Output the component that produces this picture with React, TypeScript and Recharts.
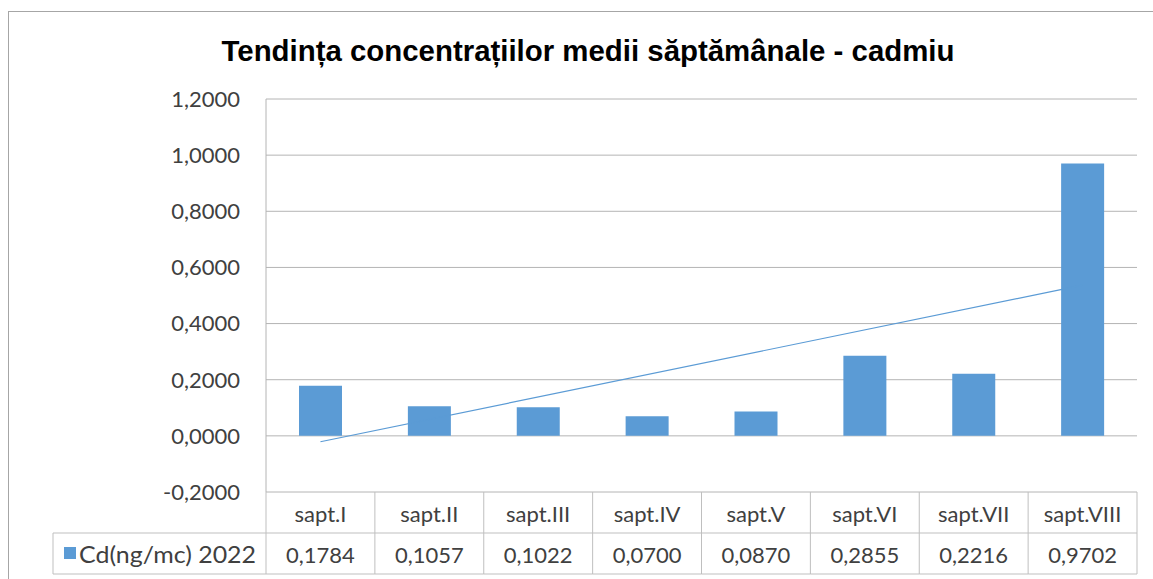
import React from "react";
import {
  ComposedChart,
  Bar,
  Line,
  XAxis,
  YAxis,
  CartesianGrid,
} from "recharts";

const CATEGORIES = [
  "sapt.I",
  "sapt.II",
  "sapt.III",
  "sapt.IV",
  "sapt.V",
  "sapt.VI",
  "sapt.VII",
  "sapt.VIII",
];
const CD_VALUES = [0.1784, 0.1057, 0.1022, 0.07, 0.087, 0.2855, 0.2216, 0.9702];
// linear trendline: only its two end points
const TREND = [-0.021, null, null, null, null, null, null, 0.537];
const Y_TICKS = [-0.2, 0, 0.2, 0.4, 0.6, 0.8, 1.0, 1.2];
const SERIES_NAME = "Cd(ng/mc) 2022";
const TITLE = "Tendința concentrațiilor medii săptămânale - cadmiu";

const data = CATEGORIES.map((cat, i) => ({
  cat,
  cd: CD_VALUES[i],
  trend: TREND[i],
}));

const W = 1153;
const H = 579;
const PLOT_LEFT = 266;
const PLOT_RIGHT = 1137;
const COL_W = (PLOT_RIGHT - PLOT_LEFT) / CATEGORIES.length;
const LEGEND_LEFT = 53;
const ROW_H = 41;
const GRID = "#b4b4b4";
const BORDER = "#bfbfbf";
const TEXT = "#404040";
const BLUE = "#5b9bd5";
const FONT = "Lato, Calibri, sans-serif";

const fmt = (v: number) => v.toFixed(4).replace(".", ",");

function TableTick(props: any) {
  const { x, y, payload, index } = props;
  const i = payload?.index ?? index;
  const left = x - COL_W / 2;
  const right = x + COL_W / 2;
  const mid = y + ROW_H;
  const bottom = y + ROW_H * 2;
  return (
    <g>
      <line x1={right} x2={right} y1={y} y2={bottom} stroke={BORDER} />
      <line x1={left} x2={right} y1={mid} y2={mid} stroke={BORDER} />
      <line x1={left} x2={right} y1={bottom} y2={bottom} stroke={BORDER} />
      {i === 0 && (
        <g>
          <line x1={left} x2={left} y1={y} y2={bottom} stroke={BORDER} />
          <line x1={LEGEND_LEFT} x2={left} y1={mid} y2={mid} stroke={BORDER} />
          <line x1={LEGEND_LEFT} x2={left} y1={bottom} y2={bottom} stroke={BORDER} />
          <line x1={LEGEND_LEFT} x2={LEGEND_LEFT} y1={mid} y2={bottom} stroke={BORDER} />
          <rect x={LEGEND_LEFT + 11} y={mid + 14} width={12} height={12} fill={BLUE} />
          <text
            x={LEGEND_LEFT + 26}
            y={mid + 30}
            fontFamily={FONT}
            fontSize={23}
            fill={TEXT}
            textLength={177}
            lengthAdjust="spacingAndGlyphs"
          >
            {SERIES_NAME}
          </text>
        </g>
      )}
      <text
        x={x}
        y={y + 30}
        textAnchor="middle"
        fontFamily={FONT}
        fontSize={22}
        fill={TEXT}
      >
        {payload.value}
      </text>
      <text
        x={x}
        y={mid + 30}
        textAnchor="middle"
        fontFamily={FONT}
        fontSize={22}
        fill={TEXT}
      >
        {fmt(CD_VALUES[i])}
      </text>
    </g>
  );
}

export default function App() {
  return (
    <div
      style={{
        position: "absolute",
        left: 0,
        top: 0,
        width: W,
        height: H,
        overflow: "hidden",
        background: "#fff",
      }}
    >
      <div
        style={{
          position: "absolute",
          left: 8,
          top: 11,
          width: 1200,
          height: 640,
          border: "1px solid #a6a6a6",
          boxSizing: "border-box",
        }}
      />
      <svg
        width={W}
        height={80}
        style={{ position: "absolute", left: 0, top: 0 }}
      >
        <text
          x={588}
          y={61}
          textAnchor="middle"
          fontFamily="'Liberation Sans', Arial, sans-serif"
          fontWeight="bold"
          fontSize={29}
          fill="#000"
          textLength={733}
          lengthAdjust="spacingAndGlyphs"
        >
          {TITLE}
        </text>
      </svg>
      <div style={{ position: "absolute", left: 0, top: 0 }}>
        <ComposedChart
          width={W}
          height={H}
          data={data}
          margin={{ top: 99, right: W - PLOT_RIGHT, bottom: 5, left: 0 }}
        >
          <CartesianGrid horizontal vertical={false} stroke={GRID} />
          <XAxis
            dataKey="cat"
            height={ROW_H * 2}
            axisLine={false}
            tickLine={false}
            tickSize={0}
            tickMargin={0}
            interval={0}
            tick={<TableTick />}
          />
          <YAxis
            width={PLOT_LEFT}
            domain={[-0.2, 1.2]}
            ticks={Y_TICKS}
            tickFormatter={fmt}
            axisLine={{ stroke: GRID }}
            tickLine={false}
            tickSize={0}
            tickMargin={26}
            tick={{ fontSize: 22, fill: TEXT, fontFamily: FONT }}
          />
          <Line
            dataKey="trend"
            stroke={BLUE}
            strokeWidth={1.2}
            dot={false}
            connectNulls
            isAnimationActive={false}
          />
          <Bar dataKey="cd" fill={BLUE} barSize={43} isAnimationActive={false} />
        </ComposedChart>
      </div>
    </div>
  );
}
